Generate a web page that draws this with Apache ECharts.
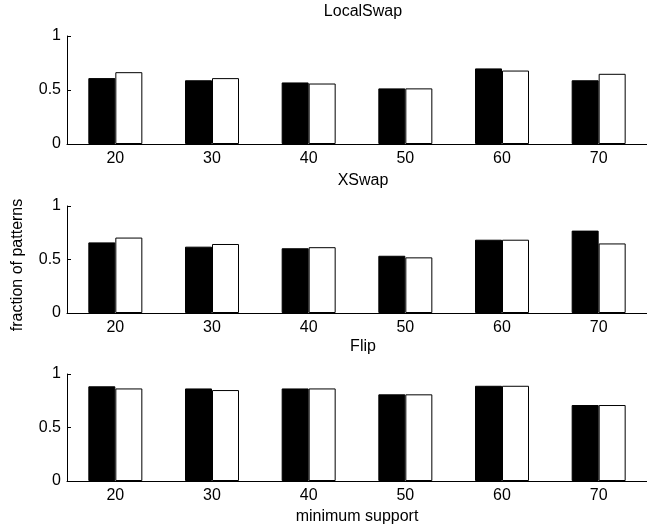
<!DOCTYPE html>
<html>
<head>
<meta charset="utf-8">
<script src="https://cdn.jsdelivr.net/npm/echarts@6/dist/echarts.min.js"></script>
<style>html,body{margin:0;padding:0;background:#fff}#c{width:647px;height:531px}</style>
</head>
<body>
<div id="c"></div>
<script>
var categories = ['20', '30', '40', '50', '60', '70'];
var panelTitles = ['LocalSwap', 'XSwap', 'Flip'];
var localSwapA = [0.61, 0.59, 0.57, 0.515, 0.70, 0.59];
var localSwapB = [0.665, 0.61, 0.56, 0.515, 0.68, 0.65];
var xSwapA = [0.66, 0.62, 0.605, 0.535, 0.685, 0.77];
var xSwapB = [0.705, 0.645, 0.615, 0.52, 0.685, 0.65];
var flipA = [0.885, 0.865, 0.865, 0.81, 0.89, 0.71];
var flipB = [0.865, 0.85, 0.865, 0.81, 0.89, 0.71];
var yTicks = [0, 0.5, 1];
var xAxisName = 'minimum support';
var yAxisName = 'fraction of patterns';

var font = 'Liberation Sans, Arial, Helvetica, sans-serif';
var fs = 16;
var panels = [[localSwapA, localSwapB], [xSwapA, xSwapB], [flipA, flipB]];
var gridTops = [36, 206, 374];
var gridHeights = [108, 107, 107];
var titleTops = [-1, 168, 334];

var grids = [], xAxes = [], yAxes = [], series = [], titles = [];
for (var i = 0; i < 3; i++) {
  grids.push({left: 67, right: -3, top: gridTops[i], height: gridHeights[i], containLabel: false});
  titles.push({text: panelTitles[i], left: 358, top: titleTops[i], textAlign: 'center',
    textStyle: {fontFamily: font, fontSize: fs, fontWeight: 'normal', color: '#000'}});
  xAxes.push({
    type: 'category', gridIndex: i, data: categories,
    axisLine: {show: true, lineStyle: {color: '#000', width: 1}},
    axisTick: {show: false},
    axisLabel: {color: '#000', fontFamily: font, fontSize: fs, margin: 7},
    name: i === 2 ? xAxisName : '',
    nameLocation: 'middle', nameGap: 28,
    nameTextStyle: {color: '#000', fontFamily: font, fontSize: fs}
  });
  yAxes.push({
    type: 'value', gridIndex: i, min: yTicks[0], max: yTicks[2], interval: yTicks[1] - yTicks[0],
    axisLine: {show: true, lineStyle: {color: '#000', width: 1}},
    axisTick: {show: true, inside: true, length: 4, lineStyle: {color: '#000'}},
    axisLabel: {color: '#000', fontFamily: font, fontSize: fs, margin: 6},
    splitLine: {show: false}
  });
  series.push({
    type: 'bar', xAxisIndex: i, yAxisIndex: i, data: panels[i][0],
    barWidth: 27, barGap: '0%',
    itemStyle: {color: '#000', borderColor: '#000', borderWidth: 1},
    silent: true, animation: false
  });
  series.push({
    type: 'bar', xAxisIndex: i, yAxisIndex: i, data: panels[i][1],
    barWidth: 27, barGap: '0%',
    itemStyle: {color: '#fff', borderColor: '#000', borderWidth: 1},
    silent: true, animation: false
  });
}

var chart = echarts.init(document.getElementById('c'), null, {renderer: 'canvas'});
chart.setOption({
  animation: false,
  backgroundColor: '#fff',
  title: titles,
  grid: grids,
  xAxis: xAxes,
  yAxis: yAxes,
  series: series,
  graphic: [{
    type: 'text',
    rotation: Math.PI / 2,
    x: 18, y: 265,
    style: {text: yAxisName, fill: '#000', font: fs + 'px ' + font, align: 'center', verticalAlign: 'middle'}
  }]
});
</script>
</body>
</html>
